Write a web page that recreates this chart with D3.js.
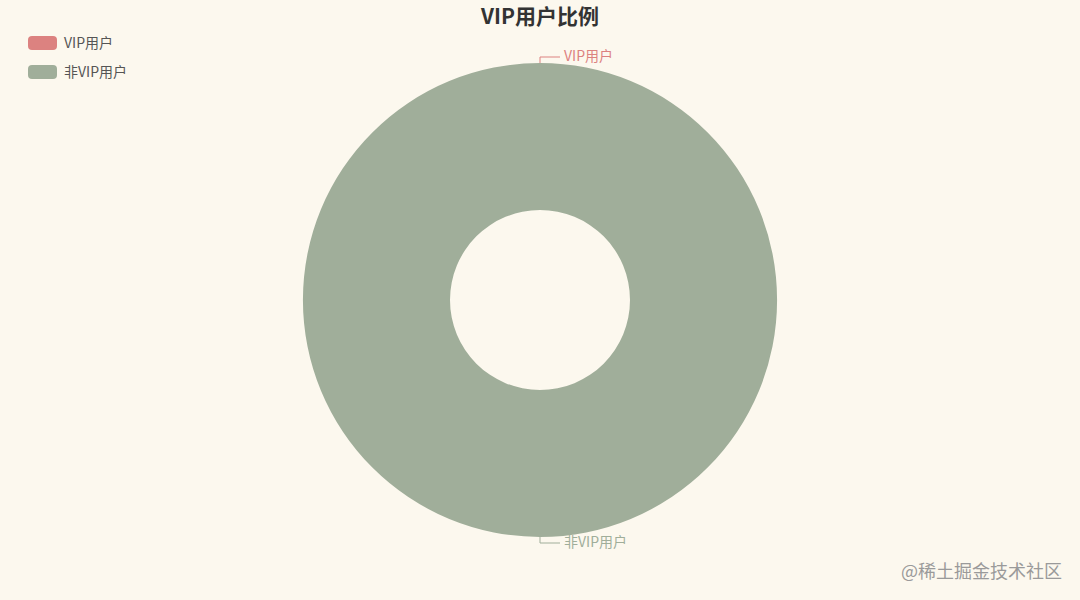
<!DOCTYPE html>
<html>
<head>
<meta charset="utf-8">
<script src="https://cdn.jsdelivr.net/npm/d3@7"></script>
<style>
  body { margin: 0; background: #fcf8ee; }
  svg { display: block; font-family: "Noto Sans CJK SC", "Noto Sans", sans-serif; }
</style>
</head>
<body>
<svg id="chart" width="1080" height="600"></svg>
<script>
// data
const categories = ["VIP用户", "非VIP用户"];
const values = [0, 100];
const colors = ["#dc8280", "#a0ae9a"];
const titleText = "VIP用户比例";
const watermark = "@稀土掘金技术社区";

const W = 1080, H = 600;
const cx = 540, cy = 300;
const outerR = 237, innerR = 90;

const svg = d3.select("#chart");

svg.append("rect")
  .attr("width", W)
  .attr("height", H)
  .attr("fill", "#fcf8ee");

// title
svg.append("text")
  .attr("x", cx)
  .attr("y", 24)
  .attr("text-anchor", "middle")
  .style("font-size", "21px")
  .style("font-weight", "bold")
  .attr("fill", "#333")
  .text(titleText);

const color = d3.scaleOrdinal().domain(categories).range(colors);

const pieData = d3.pie()
  .sort(null)
  .value(d => d.value)(categories.map((c, i) => ({ name: c, value: values[i] })));

const arc = d3.arc().innerRadius(innerR).outerRadius(outerR);

const g = svg.append("g").attr("transform", `translate(${cx},${cy})`);

g.selectAll("path.slice")
  .data(pieData)
  .join("path")
  .attr("class", "slice")
  .attr("fill", d => color(d.data.name))
  .attr("d", arc);

// labels with leader lines
const len1 = 6, len2 = 20;
pieData.forEach(d => {
  const mid = (d.startAngle + d.endAngle) / 2;
  const sx = Math.sin(mid), sy = -Math.cos(mid);
  const p0 = [sx * outerR, sy * outerR];
  const p1 = [sx * (outerR + len1), sy * (outerR + len1)];
  const right = p1[0] >= -0.001;
  const p2 = [p1[0] + (right ? len2 : -len2), p1[1]];
  g.append("polyline")
    .attr("points", [p0, p1, p2].map(p => p.join(",")).join(" "))
    .attr("fill", "none")
    .attr("stroke", color(d.data.name))
    .attr("stroke-width", 1);
  g.append("text")
    .attr("x", p2[0] + (right ? 4 : -4))
    .attr("y", p2[1] - 1)
    .attr("dy", "0.35em")
    .attr("text-anchor", right ? "start" : "end")
    .style("font-size", "14px")
    .attr("fill", color(d.data.name))
    .text(d.data.name);
});

// legend
const legend = svg.append("g").attr("transform", "translate(28,36)");
categories.forEach((c, i) => {
  const row = legend.append("g").attr("transform", `translate(0,${i * 29})`);
  row.append("rect")
    .attr("width", 29)
    .attr("height", 14)
    .attr("rx", 4)
    .attr("fill", color(c));
  row.append("text")
    .attr("x", 36)
    .attr("y", 7)
    .attr("dy", "0.35em")
    .style("font-size", "14px")
    .attr("fill", "#555")
    .text(c);
});

// watermark
svg.append("text")
  .attr("x", 1062)
  .attr("y", 572)
  .attr("dy", "0.35em")
  .attr("text-anchor", "end")
  .style("font-size", "18px")
  .attr("fill", "#9a9a9a")
  .text(watermark);
</script>
</body>
</html>
